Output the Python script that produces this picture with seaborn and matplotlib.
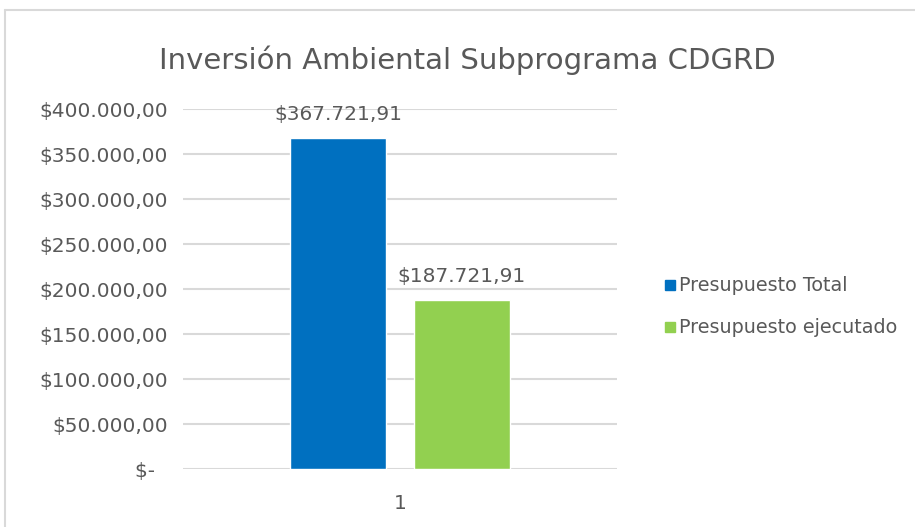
import matplotlib
matplotlib.use("Agg")
import matplotlib.pyplot as plt
import seaborn as sns
import pandas as pd
from matplotlib.lines import Line2D

# values
categorias = ["1", "1"]
series = ["Presupuesto Total", "Presupuesto ejecutado"]
valores = [367721.91, 187721.91]
colores = ["#0070C0", "#92D050"]
ticks_y = [0, 50000, 100000, 150000, 200000, 250000, 300000, 350000, 400000]

gris = "#595959"


def fmt_pesos(v):
    if v == 0:
        return "$-  "
    s = "{:,.2f}".format(v)
    s = s.replace(",", "X").replace(".", ",").replace("X", ".")
    return "$" + s


sns.set_theme(style="white")
plt.rcParams['font.family'] = ['DejaVu Sans']

df = pd.DataFrame({"cat": categorias, "serie": series, "valor": valores})

fig = plt.figure(figsize=(9.15, 5.27), dpi=100)
ax = fig.add_axes([0.2, 0.110, 0.474, 0.683])

sns.barplot(data=df, x="cat", y="valor", hue="serie", palette=colores,
            width=0.571, gap=0.226, ax=ax, legend=False, saturation=1)

ax.set_ylim(0, 400000)
ax.set_xlim(-0.5, 0.5)
ax.set_yticks(ticks_y)
ax.set_yticklabels([fmt_pesos(t) for t in ticks_y])
ax.set_xlabel("")
ax.set_ylabel("")
ax.tick_params(axis="both", colors=gris, labelsize=14.5, length=0)
ax.tick_params(axis="y", pad=11)
ax.tick_params(axis="x", pad=18)
for s in ax.spines.values():
    s.set_visible(False)
ax.yaxis.grid(True, color="#d9d9d9", linewidth=1.5)
ax.set_axisbelow(True)

for cont in ax.containers:
    for bar in cont:
        h = bar.get_height()
        ax.annotate(fmt_pesos(h), (bar.get_x() + bar.get_width() / 2, h),
                    xytext=(0, 10), textcoords="offset points",
                    ha="center", va="bottom", fontsize=14.5, color=gris)

fig.text(0.511, 0.886, "Inversión Ambiental Subprograma CDGRD",
         ha="center", va="center", fontsize=21, color=gris)

handles = [Line2D([], [], marker="s", linestyle="none", markersize=7.5,
                  color=c) for c in colores]
fig.legend(handles, series, loc="center left", bbox_to_anchor=(0.708, 0.418),
           frameon=False, fontsize=13.8, labelcolor=gris, handlelength=0.5,
           handletextpad=0.25, labelspacing=1.2)

# chart frame (only top and left edges visible in the crop)
fig.add_artist(Line2D([5 / 915, 5 / 915], [0, 1 - 10 / 527], color="#d9d9d9",
                      linewidth=1.5, transform=fig.transFigure))
fig.add_artist(Line2D([5 / 915, 1], [1 - 10 / 527, 1 - 10 / 527],
                      color="#d9d9d9", linewidth=1.5, transform=fig.transFigure))

fig.savefig("out.png", dpi=100)
